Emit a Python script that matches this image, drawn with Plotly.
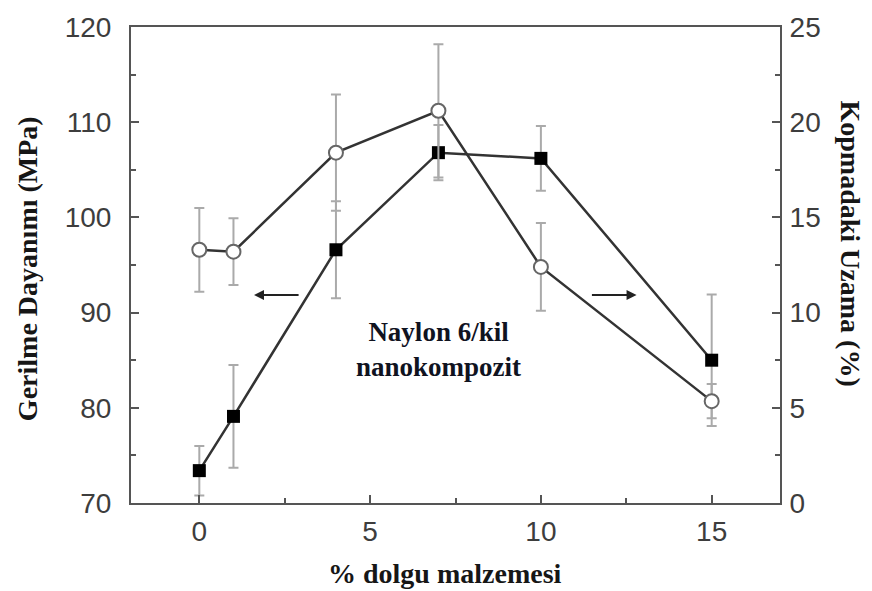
import plotly.graph_objects as go

# Data
filler = [0, 1, 4, 7, 10, 15]
strength = [73.4, 79.1, 96.6, 106.8, 106.2, 85.0]
strength_err = [2.6, 5.4, 5.1, 2.9, 3.4, 6.9]
elongation = [13.3, 13.2, 18.4, 20.6, 12.4, 5.35]
elongation_err = [2.2, 1.75, 3.05, 3.5, 2.3, 0.9]

x_ticks = [0, 5, 10, 15]
y_ticks = [70, 80, 90, 100, 110, 120]
y2_ticks = [0, 5, 10, 15, 20, 25]

axis_color = "#555555"
tick_font = dict(family="Liberation Sans, Arial", size=28, color="#3d3d3d")
title_font = dict(family="Liberation Serif, Times New Roman", size=28, color="#161616")

fig = go.Figure()

fig.add_trace(go.Scatter(
    x=filler, y=strength, mode="lines+markers",
    line=dict(color="#333333", width=2.5),
    marker=dict(symbol="square", size=13, color="black"),
    error_y=dict(type="data", array=strength_err, visible=True,
                 color="#aaaaaa", thickness=2, width=5),
    showlegend=False, yaxis="y"))

fig.add_trace(go.Scatter(
    x=filler, y=elongation, mode="lines+markers",
    line=dict(color="#333333", width=2.5),
    marker=dict(symbol="circle", size=14, color="white",
                line=dict(color="#666666", width=2)),
    error_y=dict(type="data", array=elongation_err, visible=True,
                 color="#aaaaaa", thickness=2, width=5),
    showlegend=False, yaxis="y2"))

fig.update_layout(
    width=872, height=591,
    margin=dict(l=131, r=92, t=21, b=88),
    plot_bgcolor="white", paper_bgcolor="white",
    xaxis=dict(range=[-2, 17], tickvals=x_ticks, showgrid=False, zeroline=False,
               showline=True, linecolor=axis_color, linewidth=2, mirror=True,
               ticks="inside", ticklen=8, tickwidth=2, tickcolor=axis_color,
               minor=dict(dtick=2.5, tick0=0, ticks="inside", ticklen=5,
                          tickwidth=2, tickcolor=axis_color),
               tickfont=tick_font, ticklabelstandoff=2),
    yaxis=dict(range=[70, 120], tickvals=y_ticks, showgrid=False, zeroline=False,
               showline=True, linecolor=axis_color, linewidth=2,
               ticks="inside", ticklen=8, tickwidth=2, tickcolor=axis_color,
               minor=dict(dtick=5, tick0=70, ticks="inside", ticklen=5,
                          tickwidth=2, tickcolor=axis_color),
               tickfont=tick_font, ticklabelstandoff=12),
    yaxis2=dict(range=[0, 25], tickvals=y2_ticks, overlaying="y", side="right",
                showgrid=False, zeroline=False,
                showline=True, linecolor=axis_color, linewidth=2,
                ticks="inside", ticklen=8, tickwidth=2, tickcolor=axis_color,
                minor=dict(dtick=2.5, tick0=0, ticks="inside", ticklen=5,
                           tickwidth=2, tickcolor=axis_color),
                tickfont=tick_font, ticklabelstandoff=2),
)

# Axis titles as annotations (right one reads top-to-bottom)
fig.add_annotation(x=-0.159, y=0.493, xref="paper", yref="paper", showarrow=False,
                   text="<b>Gerilme Dayanımı (MPa)</b>", textangle=-90,
                   font=title_font, xanchor="center", yanchor="middle")
fig.add_annotation(x=1.108, y=0.545, xref="paper", yref="paper", showarrow=False,
                   text="<b>Kopmadaki Uzama (%)</b>", textangle=90,
                   font=title_font, xanchor="center", yanchor="middle")
fig.add_annotation(x=0.484, y=-0.149, xref="paper", yref="paper", showarrow=False,
                   text="<b>% dolgu malzemesi</b>",
                   font=title_font, xanchor="center", yanchor="middle")

# Arrows indicating axis for each series
fig.add_annotation(x=1.6, y=91.85, ax=2.95, ay=91.85, xref="x", yref="y",
                   axref="x", ayref="y", showarrow=True, arrowhead=2,
                   arrowsize=1, arrowwidth=2, arrowcolor="#222222", text="")
fig.add_annotation(x=12.8, y=91.85, ax=11.45, ay=91.85, xref="x", yref="y",
                   axref="x", ayref="y", showarrow=True, arrowhead=2,
                   arrowsize=1, arrowwidth=2, arrowcolor="#222222", text="")

fig.add_annotation(x=7.0, y=86.1, xref="x", yref="y", showarrow=False,
                   text="<b>Naylon 6/kil<br>nanokompozit</b>",
                   font=dict(family="Liberation Serif, Times New Roman", size=27, color="#10131f"),
                   align="center")

fig.write_html("out.html")
